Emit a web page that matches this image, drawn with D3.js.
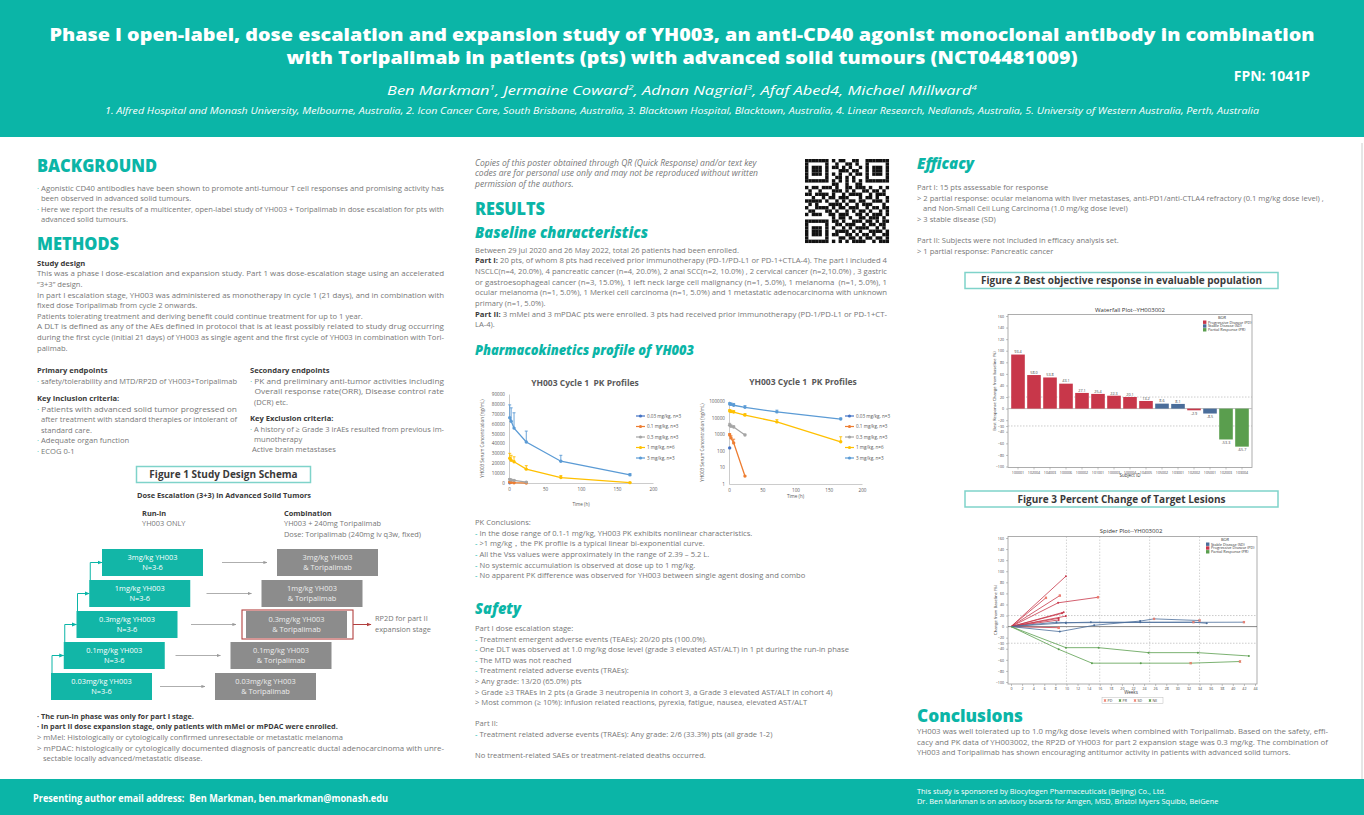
<!DOCTYPE html>
<html><head><meta charset="utf-8">
<script src="https://cdn.jsdelivr.net/npm/d3@7"></script>
<style>
body{margin:0;background:#fff;}
svg{display:block;font-family:"Open Sans",sans-serif;}
</style></head><body>
<svg id="c" width="1364" height="815"></svg>
<script>
// ---------------- DATA ----------------
const titleLines = ["Phase I open-label, dose escalation and expansion study of YH003, an anti-CD40 agonist monoclonal antibody in combination",
  "with Toripalimab in patients (pts) with advanced solid tumours (NCT04481009)"];
const authors = [["Ben Markman","1"],["Jermaine Coward","2"],["Adnan Nagrial","3"],["Afaf Abed4",""],["Michael Millward","4"]];
const affiliations = "1. Alfred Hospital and Monash University, Melbourne, Australia, 2. Icon Cancer Care, South Brisbane, Australia, 3. Blacktown Hospital, Blacktown, Australia, 4. Linear Research, Nedlands, Australia, 5. University of Western Australia, Perth, Australia";
const backgroundLines = ["· Agonistic CD40 antibodies have been shown to promote anti-tumour T cell responses and promising activity has",
  "  been observed in advanced solid tumours.",
  "· Here we report the results of a multicenter, open-label study of YH003 + Toripalimab in dose escalation for pts with",
  "  advanced solid tumours."];
const studyDesignLines = ["This was a phase I dose-escalation and expansion study. Part 1 was dose-escalation stage using an accelerated",
  "“3+3” design.",
  "In part I escalation stage, YH003 was administered as monotherapy in cycle 1 (21 days), and in combination with",
  "fixed dose Toripalimab from cycle 2 onwards.",
  "Patients tolerating treatment and deriving benefit could continue treatment for up to 1 year.",
  "A DLT is defined as any of the AEs defined in protocol that is at least possibly related to study drug occurring",
  "during the first cycle (initial 21 days) of YH003 as single agent and the first cycle of YH003 in combination with Tori-",
  "palimab."];
const primaryLines = ["· safety/tolerability and MTD/RP2D of YH003+Toripalimab"];
const inclusionLines = ["· Patients with advanced solid tumor progressed on","  after treatment with standard therapies or intolerant of","  standard care.","· Adequate organ function","· ECOG 0-1"];
const secondaryLines = ["· PK and preliminary anti-tumor activities including","  Overall response rate(ORR), Disease control rate","  (DCR) etc."];
const exclusionLines = ["· A history of ≥ Grade 3 irAEs resulted from previous im-","  munotherapy"," Active brain metastases"];
const schemaLevels = ["0.03mg/kg YH003","0.1mg/kg YH003","0.3mg/kg YH003","1mg/kg YH003","3mg/kg YH003"];
const schemaN = "N=3-6";
const schemaCombo = "& Toripalimab";
const schemaNotesBold = ["· The run-in phase was only for part I stage.","· In part II dose expansion stage, only patients with mMel or mPDAC were enrolled."];
const schemaNotes = ["> mMel: Histologically or cytologically confirmed unresectable or metastatic melanoma",
  "> mPDAC: histologically or cytologically documented diagnosis of pancreatic ductal adenocarcinoma with unre-",
  "   sectable locally advanced/metastatic disease."];
const copyLines = ["Copies of this poster obtained through QR (Quick Response) and/or text key","codes are for personal use only and may not be reproduced without written","permission of the authors."];
const baselineLines = ["Between 29 Jul 2020 and 26 May 2022, total 26 patients had been enrolled.",
  [["Part I:",1],[" 20 pts, of whom 8 pts had received prior immunotherapy (PD-1/PD-L1 or PD-1+CTLA-4). The part I included 4",0]],
  "NSCLC(n=4, 20.0%), 4 pancreatic cancer (n=4, 20.0%), 2 anal SCC(n=2, 10.0%) , 2 cervical cancer (n=2,10.0%) , 3 gastric",
  "or gastroesophageal cancer (n=3, 15.0%), 1 left neck large cell malignancy (n=1, 5.0%), 1 melanoma  (n=1, 5.0%), 1",
  "ocular melanoma (n=1, 5.0%), 1 Merkel cell carcinoma (n=1, 5.0%) and 1 metastatic adenocarcinoma with unknown",
  "primary (n=1, 5.0%).",
  [["Part II:",1],[" 3 mMel and 3 mPDAC pts were enrolled. 3 pts had received prior immunotherapy (PD-1/PD-L1 or PD-1+CT-",0]],
  "LA-4)."];
const pkConclusionLines = ["PK Conclusions:","- In the dose range of 0.1-1 mg/kg, YH003 PK exhibits nonlinear characteristics.",
  "- >1 mg/kg，the PK profile is a typical linear bi-exponential curve.",
  "- All the Vss values were approximately in the range of 2.39 – 5.2 L.",
  "- No systemic accumulation is observed at dose up to 1 mg/kg.",
  "- No apparent PK difference was observed for YH003 between single agent dosing and combo"];
const safetyLines = ["Part I dose escalation stage:","- Treatment emergent adverse events (TEAEs): 20/20 pts (100.0%).",
  "- One DLT was observed at 1.0 mg/kg dose level (grade 3 elevated AST/ALT) in 1 pt during the run-in phase",
  "- The MTD was not reached","- Treatment related adverse events (TRAEs):","> Any grade: 13/20 (65.0%) pts",
  "> Grade ≥3 TRAEs in 2 pts (a Grade 3 neutropenia in cohort 3, a Grade 3 elevated AST/ALT in cohort 4)",
  "> Most common (≥ 10%): infusion related reactions, pyrexia, fatigue, nausea, elevated AST/ALT",
  null,"Part II:","- Treatment related adverse events (TRAEs): Any grade: 2/6 (33.3%) pts (all grade 1-2)",
  null,"No treatment-related SAEs or treatment-related deaths occurred."];
const efficacyLines = ["Part I: 15 pts assessable for response",
  "> 2 partial response: ocular melanoma with liver metastases, anti-PD1/anti-CTLA4 refractory (0.1 mg/kg dose level) ,",
  "   and Non-Small Cell Lung Carcinoma (1.0 mg/kg dose level)","> 3 stable disease (SD)",null,
  "Part II: Subjects were not included in efficacy analysis set.","> 1 partial response: Pancreatic cancer"];
const conclusionLines = ["YH003 was well tolerated up to 1.0 mg/kg dose levels when combined with Toripalimab. Based on the safety, effi-",
  "cacy and PK data of YH003002, the RP2D of YH003 for part 2 expansion stage was 0.3 mg/kg. The combination of",
  "YH003 and Toripalimab has shown encouraging antitumor activity in patients with advanced solid tumors."];
const footerLeft = "Presenting author email address:  Ben Markman, ben.markman@monash.edu";
const footerRight = ["This study is sponsored by Biocytogen Pharmaceuticals (Beijing) Co., Ltd.","Dr. Ben Markman is on advisory boards for Amgen, MSD, Bristol Myers Squibb, BeiGene"];

// PK data (mean serum concentration, ng/mL; upper error = mean + SD)
const pkTimes = [1, 3, 7, 24, 72, 168];
const pkNames = ["0.03 mg/kg, n=3","0.1 mg/kg, n=3","0.3 mg/kg, n=3","1 mg/kg, n=6","3 mg/kg, n=3"];
const pkColors = ["#4472C4","#ED7D31","#A5A5A5","#FFC000","#5B9BD5"];
const pkMean = [[150],[900,600,300,3],[3500,3000,2700,900],[25000,23000,21500,14000,5500,350],[66000,62500,55500,41500,22000,8200]];
const pkUpper = [[150],[1100,800,500,3],[4500,3600,3200,1000],[30000,28000,26500,17500,7500,700],[79000,76000,71000,52500,28000,9500]];
const pkLinTicks = [0,10000,20000,30000,40000,50000,60000,70000,80000,90000];
const pkLogTicks = [1,10,100,1000,10000,100000];
const pkTimeTicks = [0,50,100,150,200];

// Waterfall
const wfSubjects = ["100001","102004","104003","100006","100002","101001","100003","100004","104005","105002","103001","102002","105001","102003","103004"];
const wfValues = [93.4,58.0,53.8,43.1,27.1,25.4,22.3,20.1,13.2,8.6,8.1,-2.9,-8.5,-53.3,-65.7];
const wfBOR = ["PD","PD","PD","PD","PD","PD","PD","PD","PD","SD","SD","PD","SD","PR","PR"];
const borNames = {PD:"Progressive Disease (PD)",SD:"Stable Disease (SD)",PR:"Partial Response (PR)"};
const borColors = {PD:"#C8374A",SD:"#4A6D9A",PR:"#5A9E4E"};
const pctTicks = [-100,-80,-60,-40,-30,-20,0,20,40,60,80,100,120,140,160];

// Spider: [week, % change]
const spiderSeries = [
  {bor:"PD",pts:[[0,0],[9.9,91]]},
  {bor:"PD",pts:[[0,0],[8.8,56]]},
  {bor:"PD",pts:[[0,0],[6.3,52]]},
  {bor:"PD",pts:[[0,0],[8.5,43],[15.7,53]]},
  {bor:"PD",pts:[[0,0],[9.5,26]]},
  {bor:"PD",pts:[[0,0],[9.2,24]]},
  {bor:"PD",pts:[[0,0],[9.9,19]]},
  {bor:"PD",pts:[[0,0],[8.6,15]]},
  {bor:"PD",pts:[[0,0],[8.6,12]]},
  {bor:"PD",pts:[[0,0],[8.6,-2]]},
  {bor:"SD",pts:[[0,0],[8.8,-9],[15,2.4],[23.3,10],[25.8,14],[34,11]]},
  {bor:"SD",pts:[[0,0],[8.2,8],[9.9,7],[14.4,8],[23.3,8],[32.9,8],[35.3,6]]},
  {bor:"SD",pts:[[0,0],[9.9,7],[42,8]]},
  {bor:"PR",pts:[[0,0],[8.6,-41],[14.6,-66],[23.4,-66],[32.4,-66],[41.3,-63]]},
  {bor:"PR",pts:[[0,0],[9.9,-38],[15.8,-38],[24.8,-47],[33.7,-47],[42.9,-53]]}
];
// assessment points marked with a salmon cross
const spiderCrossPts = [[6.3,52],[8.8,56],[15.7,53],[8.6,-2],[25.8,14],[32.9,8],[34,11],[42,8],[32.4,-66],[41.3,-63]];
const spiderVisitWeeks = [10,16,25,34];
const spiderBOROrder = ["SD","PD","PR"];
const spiderMarkLegend = ["PD","PR","SD","NE"];

// QR pattern rows
const qrRows = [
"1111111010110011001111111","1000001001001101001000001","1011101011010100101011101","1011101000111011001011101",
"1011101010100101101011101","1000001001101010001000001","1111111010101010101111111","0000000011001001100000000",
"1011011101001101110100101","0100100011101010011011010","1101111010010111100101110","0010010110111000101101001",
"1111101001010110110011101","0101000111101001011100010","1001111010110111001011011","0110001101001010110100101",
"1011100110111001101011101","0000000010110100110111010","1111111011010011101101011","1000001001101110010110110",
"1011101010010101111001010","1011101001111010100111101","1011101011001101011010011","1000001000110110101101101",
"1111111010101011110010111"];

// ---------------- DRAW ----------------
const teal="#0bb5a7", gray="#777", dark="#3a3a3a", BODY=7.6;
const svg=d3.select("#c");
const defs=svg.append("defs");
function marker(id,color){
  defs.append("marker").attr("id",id).attr("viewBox","0 0 10 10").attr("refX",9).attr("refY",5)
    .attr("markerWidth",5).attr("markerHeight",5).attr("orient","auto")
    .append("path").attr("d","M0,1L10,5L0,9z").attr("fill",color);
}
marker("arG","#999"); marker("arT",teal); marker("arR","#b3403f");

function T(g,x,y,s,o={}){
  const t=g.append("text").attr("x",x).attr("y",y)
    .attr("font-size",o.size||BODY).attr("fill",o.fill||gray)
    .attr("font-weight",o.weight||400).attr("font-style",o.style||"normal")
    .attr("text-anchor",o.anchor||"start").style("white-space","pre");
  if(o.w) t.attr("textLength",o.w).attr("lengthAdjust","spacingAndGlyphs");
  if(Array.isArray(s)){
    s.forEach(seg=>{const ts=t.append("tspan").text(seg[0]); if(seg[1]) ts.attr("font-weight",700).attr("fill",dark);});
  } else if(o.bullet && /^[·\-] /.test(s)){
    t.append("tspan").attr("fill",teal).text(s[0]); t.append("tspan").text(s.slice(1));
  } else t.text(s);
  return t;
}
// block: o.width = column width, o.j = indices of lines justified to the column width
function block(g,x,y,dy,arr,o={}){
  arr.forEach((s,i)=>{
    if(s===null) return;
    const oo=Object.assign({bullet:true},o);
    delete oo.w;
    if(o.j && o.j.includes(i)) oo.w=o.width;
    T(g,x,y+i*dy,s,oo);
  });
}

// header
svg.append("rect").attr("x",0).attr("y",0).attr("width",1364).attr("height",137).attr("fill",teal);
T(svg,682,40.5,titleLines[0],{size:18,weight:800,fill:"#fff",anchor:"middle",w:1265});
T(svg,682,64,titleLines[1],{size:18,weight:800,fill:"#fff",anchor:"middle",w:791});
T(svg,1310,81,"FPN: 1041P",{size:14,weight:700,fill:"#fff",anchor:"end"});
{
  const t=svg.append("text").attr("x",682).attr("y",95).attr("text-anchor","middle").attr("font-size",13.5)
    .attr("font-style","italic").attr("fill","#fff").attr("textLength",590).attr("lengthAdjust","spacingAndGlyphs");
  authors.forEach((a,i)=>{
    t.append("tspan").text(a[0]);
    if(a[1]) t.append("tspan").attr("font-size",8).attr("dy",-5).text(a[1]);
    t.append("tspan").attr("dy",a[1]?5:0).text(i<authors.length-1?", ":"");
  });
}
T(svg,682,114,affiliations,{size:8.6,style:"italic",fill:"#fff",anchor:"middle",w:1154});

// right border line
svg.append("line").attr("x1",1362).attr("x2",1362).attr("y1",143).attr("y2",779).attr("stroke","#ccc").attr("stroke-width",1);

// footer
svg.append("rect").attr("x",0).attr("y",779).attr("width",1364).attr("height",36).attr("fill",teal);
T(svg,33,802,footerLeft,{size:10,weight:700,fill:"#fff",w:355});
block(svg,917,794,10.3,footerRight,{size:7.4,fill:"#fff",bullet:false});

// ---------- LEFT COLUMN ----------
const H={size:17.5,weight:800,fill:teal};
T(svg,37,172,"BACKGROUND",Object.assign({w:120},H));
block(svg,37,190.7,10.4,backgroundLines,{width:407,j:[0,2]});
T(svg,37,250,"METHODS",Object.assign({w:82},H));
T(svg,37,265.7,"Study design",{weight:700,fill:dark});
block(svg,37,276.3,10.6,studyDesignLines,{width:407,j:[0,2,5,6]});
T(svg,37,373.3,"Primary endpoints",{weight:700,fill:dark});
block(svg,37,383.7,10.4,primaryLines,{width:200,j:[0]});
T(svg,37,400.7,"Key Inclusion criteria:",{weight:700,fill:dark});
block(svg,37,411.7,10.5,inclusionLines,{width:200,j:[0,1]});
T(svg,250,373.3,"Secondary endpoints",{weight:700,fill:dark});
block(svg,250,383.7,10.5,secondaryLines,{width:194,j:[0,1]});
T(svg,250,421,"Key Exclusion criteria:",{weight:700,fill:dark});
block(svg,250,431.7,10.3,exclusionLines,{width:194,j:[0]});

// Figure 1 schema
function figBox(x,y,w,h,label){
  svg.append("rect").attr("x",x).attr("y",y).attr("width",w).attr("height",h).attr("fill","#fff")
    .attr("stroke","#7fd3ca").attr("stroke-width",1.5);
  T(svg,x+w/2,y+h/2+3.6,label,{size:10,weight:700,fill:dark,anchor:"middle"});
}
figBox(136.5,466.5,174,16,"Figure 1 Study Design Schema");
T(svg,224,497.7,"Dose Escalation (3+3) in Advanced Solid Tumors",{size:7.4,weight:700,fill:dark,anchor:"middle"});
T(svg,142,515.7,"Run-in",{size:7.4,weight:700,fill:dark});
T(svg,142,526.3,"YH003 ONLY",{size:7.4});
T(svg,284,515.7,"Combination",{size:7.4,weight:700,fill:dark});
T(svg,284,526.3,"YH003 + 240mg Toripalimab",{size:7.4});
T(svg,284,537,"Dose: Toripalimab (240mg iv q3w, fixed)",{size:7.4});

const lvl=d3.range(schemaLevels.length);
const tealX=d3.scaleLinear().domain([0,4]).range([51,102]);
const boxTop=d3.scaleLinear().domain([0,4]).range([673,549]);
const grayX=d3.scaleLinear().domain([0,4]).range([215,277]);
const BW=101, BH=27;
lvl.forEach(i=>{
  const tx=tealX(i), ty=boxTop(i), gx=grayX(i);
  svg.append("rect").attr("x",tx).attr("y",ty).attr("width",BW).attr("height",BH).attr("fill","#12b6a7");
  T(svg,tx+BW/2,ty+10.5,schemaLevels[i],{size:7.4,fill:"#fff",anchor:"middle"});
  T(svg,tx+BW/2,ty+21,schemaN,{size:7.4,fill:"#fff",anchor:"middle"});
  svg.append("rect").attr("x",gx).attr("y",ty).attr("width",BW).attr("height",BH).attr("fill","#8c8c8c");
  T(svg,gx+BW/2,ty+10.5,schemaLevels[i],{size:7.4,fill:"#ececec",anchor:"middle"});
  T(svg,gx+BW/2,ty+21,schemaCombo,{size:7.4,fill:"#ececec",anchor:"middle"});
  svg.append("line").attr("x1",gx-55).attr("x2",gx-10).attr("y1",ty+BH/2).attr("y2",ty+BH/2)
    .attr("stroke","#999").attr("stroke-width",0.8).attr("marker-end","url(#arG)");
  if(i<4){
    const up=boxTop(i+1)+BH/2;
    svg.append("path").attr("d",`M${tx+1},${ty}V${up}H${tealX(i+1)}`).attr("fill","none")
      .attr("stroke",teal).attr("stroke-width",1).attr("marker-end","url(#arT)");
  }
  if(i===2){
    svg.append("rect").attr("x",gx-4).attr("y",ty-1).attr("width",BW+10).attr("height",BH+2)
      .attr("fill","none").attr("stroke","#b3403f").attr("stroke-width",1.1);
    svg.append("line").attr("x1",gx+BW+6).attr("x2",gx+BW+24).attr("y1",ty+BH/2).attr("y2",ty+BH/2)
      .attr("stroke","#b3403f").attr("stroke-width",1).attr("marker-end","url(#arR)");
    T(svg,gx+BW+28,ty+10,"RP2D for part II",{size:7.4});
    T(svg,gx+BW+28,ty+20.5,"expansion stage",{size:7.4});
  }
});
schemaNotesBold.forEach((s,i)=>T(svg,37,718.7+i*10.6,s,{size:7.3,weight:700,fill:dark}));
block(svg,37,739.9,10.6,schemaNotes,{width:407,j:[1]});

// ---------- MIDDLE COLUMN ----------
block(svg,475,166,10.4,copyLines,{style:"italic",size:8.5});
T(svg,475,215,"RESULTS",Object.assign({w:70},H));
T(svg,475,237.7,"Baseline characteristics",{size:15,weight:800,style:"italic",fill:teal,w:173});
block(svg,475,252.7,10.65,baselineLines,{width:412,j:[1,2,3,4,6]});
T(svg,475,355,"Pharmacokinetics profile of YH003",{size:13.5,weight:800,style:"italic",fill:teal,w:219});

// QR code
{
  const g=svg.append("g"), m=84/qrRows.length;
  qrRows.forEach((r,ri)=>r.split("").forEach((c,ci)=>{
    if(c==="1") g.append("rect").attr("x",805+ci*m).attr("y",159+ri*m).attr("width",m+0.05).attr("height",m+0.05).attr("fill","#111");
  }));
}

// PK charts
function pkChart(opt){
  const g=svg.append("g");
  const x=d3.scaleLinear().domain([0,200]).range(opt.xr);
  const y=opt.log?d3.scaleLog().domain([1,100000]).range(opt.yr):d3.scaleLinear().domain([0,90000]).range(opt.yr);
  T(g,opt.tx,opt.ty,"YH003 Cycle 1  PK Profiles",{size:8.5,weight:700,fill:"#595959",anchor:"middle"});
  const ya=g.append("g").attr("transform",`translate(${opt.xr[0]},0)`)
    .call(d3.axisLeft(y).tickValues(opt.log?pkLogTicks:pkLinTicks).tickFormat(d3.format("d")).tickSize(0).tickPadding(4));
  const xa=g.append("g").attr("transform",`translate(0,${opt.yr[0]})`)
    .call(d3.axisBottom(x).tickValues(pkTimeTicks).tickSize(0).tickPadding(5));
  [ya,xa].forEach(a=>{a.selectAll("path").attr("stroke","#bfbfbf").attr("stroke-width",0.8);
    a.selectAll("text").attr("font-size",4.6).attr("fill","#595959").attr("font-family","Open Sans");});
  T(g,opt.xr[0]-25,(opt.yr[0]+opt.yr[1])/2,"YH003 Serum Concentration (ng/mL)",{size:4.6,fill:"#595959",anchor:"middle"})
    .attr("transform",`rotate(-90,${opt.xr[0]-25},${(opt.yr[0]+opt.yr[1])/2})`);
  T(g,(opt.xr[0]+opt.xr[1])/2,opt.lx,"Time (h)",{size:4.6,fill:"#595959",anchor:"middle"});
  pkMean.forEach((ser,si)=>{
    const pts=ser.map((v,k)=>[pkTimes[k],v]);
    pts.forEach((p,k)=>{
      const up=pkUpper[si][k];
      if(up>p[1]){
        g.append("line").attr("x1",x(p[0])).attr("x2",x(p[0])).attr("y1",y(p[1])).attr("y2",y(up)).attr("stroke",pkColors[si]).attr("stroke-width",0.9);
        g.append("line").attr("x1",x(p[0])-1.5).attr("x2",x(p[0])+1.5).attr("y1",y(up)).attr("y2",y(up)).attr("stroke",pkColors[si]).attr("stroke-width",0.9);
      }
    });
    g.append("path").datum(pts).attr("fill","none").attr("stroke",pkColors[si]).attr("stroke-width",1.3)
      .attr("d",d3.line().x(d=>x(d[0])).y(d=>y(d[1])));
    g.selectAll(null).data(pts).join("circle").attr("cx",d=>x(d[0])).attr("cy",d=>y(d[1])).attr("r",1.7).attr("fill",pkColors[si]);
    const ly=opt.ly+si*10.5;
    g.append("line").attr("x1",opt.lgx).attr("x2",opt.lgx+9).attr("y1",ly).attr("y2",ly).attr("stroke",pkColors[si]).attr("stroke-width",1.2);
    g.append("circle").attr("cx",opt.lgx+4.5).attr("cy",ly).attr("r",1.6).attr("fill",pkColors[si]);
    T(g,opt.lgx+11,ly+1.6,pkNames[si],{size:4.6,fill:"#595959"});
  });
}
pkChart({xr:[509,653],yr:[483,394],log:false,tx:585,ty:386,lx:506,lgx:636,ly:416});
pkChart({xr:[729,862],yr:[484,401],log:true,tx:803,ty:385,lx:498,lgx:845,ly:416});

block(svg,475,525,10.66,pkConclusionLines);
T(svg,475,614,"Safety",{size:15,weight:800,style:"italic",fill:teal,w:46});
block(svg,475,631,10.6,safetyLines);

// ---------- RIGHT COLUMN ----------
T(svg,917,169,"Efficacy",{size:15,weight:800,style:"italic",fill:teal,w:57});
block(svg,917,190,10.6,efficacyLines);
figBox(965,272.5,313,16,"Figure 2 Best objective response in evaluable population");

// Waterfall
{
  const g=svg.append("g");
  const x=d3.scaleBand().domain(wfSubjects).range([1010,1250]).paddingInner(0.15).paddingOuter(0.075);
  const y=d3.scaleLinear().domain([-100,160]).range([466.5,316]);
  g.append("rect").attr("x",1008).attr("y",314.5).attr("width",244).attr("height",153).attr("fill","none").attr("stroke","#999").attr("stroke-width",0.8);
  T(g,1130,311.7,"Waterfall Plot--YH003002",{size:6,fill:"#333",anchor:"middle"});
  [20,-30].forEach(v=>g.append("line").attr("x1",1008).attr("x2",1252).attr("y1",y(v)).attr("y2",y(v)).attr("stroke","#aaa").attr("stroke-width",0.6).attr("stroke-dasharray","1.5,1.5"));
  g.append("line").attr("x1",1008).attr("x2",1252).attr("y1",y(0)).attr("y2",y(0)).attr("stroke","#bbb").attr("stroke-width",1);
  g.selectAll(null).data(wfValues).join("rect")
    .attr("x",(d,i)=>x(wfSubjects[i])).attr("width",x.bandwidth())
    .attr("y",d=>y(Math.max(0,d))).attr("height",d=>Math.abs(y(d)-y(0)))
    .attr("fill",(d,i)=>borColors[wfBOR[i]]);
  wfValues.forEach((d,i)=>T(g,x(wfSubjects[i])+x.bandwidth()/2,d>=0?y(d)-1.2:y(d)+4.5,d.toFixed(1),{size:3.8,fill:"#444",anchor:"middle"}));
  const ya=g.append("g").attr("transform","translate(1008,0)").call(d3.axisLeft(y).tickValues(pctTicks).tickSize(2).tickPadding(2));
  const xa=g.append("g").attr("transform","translate(0,467.5)").call(d3.axisBottom(x).tickSize(2).tickPadding(1.5));
  [ya,xa].forEach(a=>{a.select("path").remove(); a.selectAll("line").attr("stroke","#888").attr("stroke-width",0.5);
    a.selectAll("text").attr("font-size",3.6).attr("fill","#444").attr("font-family","Open Sans");});
  T(g,996,391,"Best Response Change from baseline (%)",{size:4.2,fill:"#333",anchor:"middle"}).attr("transform","rotate(-90,996,391)");
  T(g,1130,477,"Subject ID",{size:4.5,fill:"#333",anchor:"middle"});
  T(g,1222,319,"BOR",{size:4,fill:"#333",anchor:"middle"});
  ["PD","SD","PR"].forEach((b,i)=>{
    g.append("rect").attr("x",1203).attr("y",320.5+i*3.8).attr("width",3.4).attr("height",3.4).attr("fill",borColors[b]);
    T(g,1208,323.6+i*3.8,borNames[b],{size:3.8,fill:"#333"});
  });
}

figBox(965,491,313,16,"Figure 3 Percent Change of Target Lesions");

// Spider
{
  const g=svg.append("g");
  const x=d3.scaleLinear().domain([0,44]).range([1011,1255]);
  const y=d3.scaleLinear().domain([-100,160]).range([682,538]);
  g.append("rect").attr("x",1008).attr("y",536.5).attr("width",249).attr("height",147.5).attr("fill","none").attr("stroke","#999").attr("stroke-width",0.8);
  T(g,1131,533,"Spider Plot--YH003002",{size:6,fill:"#333",anchor:"middle"});
  spiderVisitWeeks.forEach(w=>g.append("line").attr("x1",x(w)).attr("x2",x(w)).attr("y1",536.5).attr("y2",684).attr("stroke","#aaa").attr("stroke-width",0.5).attr("stroke-dasharray","1.5,1.5"));
  [20,-30].forEach(v=>g.append("line").attr("x1",1008).attr("x2",1257).attr("y1",y(v)).attr("y2",y(v)).attr("stroke","#aaa").attr("stroke-width",0.6).attr("stroke-dasharray","1.5,1.5"));
  g.append("line").attr("x1",1008).attr("x2",1257).attr("y1",y(0)).attr("y2",y(0)).attr("stroke","#666").attr("stroke-width",0.8);
  spiderSeries.forEach(s=>{
    g.append("path").datum(s.pts).attr("fill","none").attr("stroke",borColors[s.bor]).attr("stroke-width",0.8)
      .attr("d",d3.line().x(d=>x(d[0])).y(d=>y(d[1])));
    g.selectAll(null).data(s.pts.slice(1)).join("circle").attr("cx",d=>x(d[0])).attr("cy",d=>y(d[1])).attr("r",1).attr("fill",borColors[s.bor]);
  });
  const cross=d3.symbol().type(d3.symbolCross).size(5);
  g.selectAll(null).data(spiderCrossPts).join("path").attr("d",cross)
    .attr("transform",d=>`translate(${x(d[0])},${y(d[1])}) rotate(45)`).attr("fill","#f08070");
  const ya=g.append("g").attr("transform","translate(1008,0)").call(d3.axisLeft(y).tickValues(pctTicks).tickSize(2).tickPadding(2));
  const xa=g.append("g").attr("transform","translate(0,684)").call(d3.axisBottom(x).tickValues(d3.range(0,45,2)).tickSize(2).tickPadding(1.5));
  [ya,xa].forEach(a=>{a.select("path").remove(); a.selectAll("line").attr("stroke","#888").attr("stroke-width",0.5);
    a.selectAll("text").attr("font-size",3.6).attr("fill","#444").attr("font-family","Open Sans");});
  T(g,997,610,"Change from Baseline (%)",{size:4.2,fill:"#333",anchor:"middle"}).attr("transform","rotate(-90,997,610)");
  T(g,1131,694,"Weeks",{size:4.5,fill:"#333",anchor:"middle"});
  T(g,1225,541,"BOR",{size:4,fill:"#333",anchor:"middle"});
  spiderBOROrder.forEach((b,i)=>{
    g.append("rect").attr("x",1206).attr("y",542.5+i*3.8).attr("width",3.4).attr("height",3.4).attr("fill",borColors[b]);
    T(g,1211,545.6+i*3.8,borNames[b],{size:3.8,fill:"#333"});
  });
  // marker legend below the plot
  g.append("rect").attr("x",1102).attr("y",697.5).attr("width",61).attr("height",6).attr("fill","#fff").attr("stroke","#bbb").attr("stroke-width",0.5);
  spiderMarkLegend.forEach((m,i)=>{
    g.append("path").attr("d",cross).attr("transform",`translate(${1105+i*15},700.5) rotate(45)`).attr("fill",i%2?"#5A9E4E":"#f08070");
    T(g,1107.5+i*15,702,m,{size:3.6,fill:"#444"});
  });
}

T(svg,917,721.7,"Conclusions",Object.assign({w:106},H));
block(svg,917,734.3,10.5,conclusionLines,{width:411,j:[0,1]});
</script></body></html>
